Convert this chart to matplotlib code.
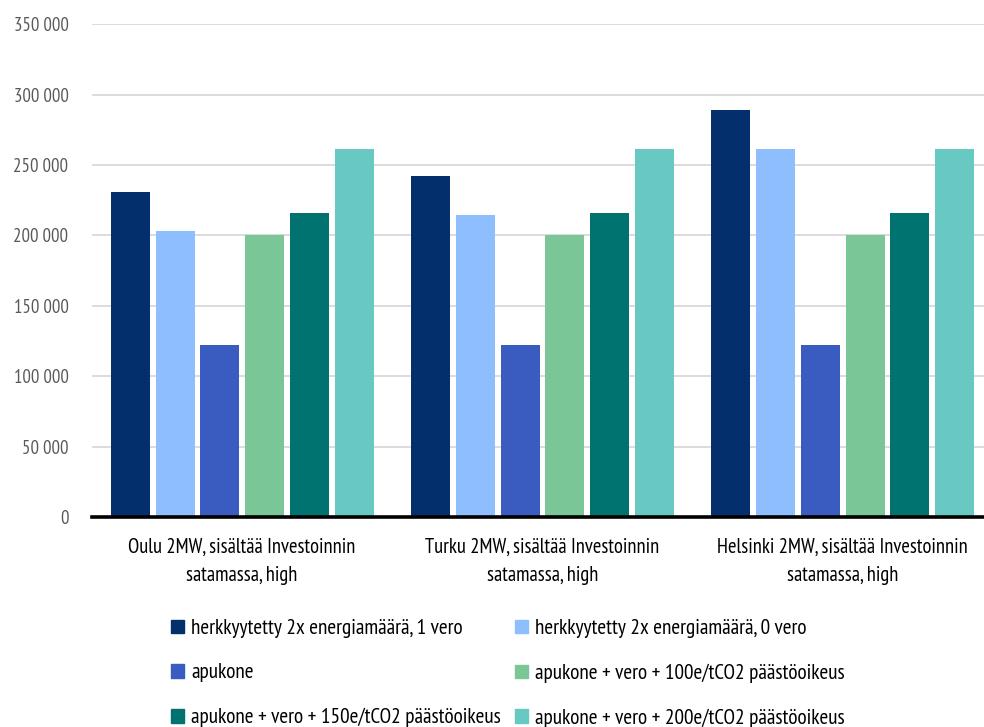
import numpy as np
import matplotlib
matplotlib.use("Agg")
import matplotlib.pyplot as plt
from matplotlib.patches import Patch

plt.rcParams['font.family'] = ['PT Sans Narrow', 'DejaVu Sans']

categories = ["Oulu 2MW, sisältää Investoinnin\nsatamassa, high",
              "Turku 2MW, sisältää Investoinnin\nsatamassa, high",
              "Helsinki 2MW, sisältää Investoinnin\nsatamassa, high"]

series_names = ["herkkyytetty 2x energiamäärä, 1 vero",
                "herkkyytetty 2x energiamäärä, 0 vero",
                "apukone",
                "apukone + vero + 100e/tCO2 päästöoikeus",
                "apukone + vero + 150e/tCO2 päästöoikeus",
                "apukone + vero + 200e/tCO2 päästöoikeus"]

herkky_1_vero = [231000, 242000, 289000]
herkky_0_vero = [203500, 214500, 261600]
apukone = [122300, 122300, 122300]
apukone_100 = [200300, 200300, 200300]
apukone_150 = [215700, 215700, 215700]
apukone_200 = [261600, 261600, 261600]

colors = ['#03306C', '#8FBEFF', '#3A5BBF', '#7BC696', '#007370', '#68C9C3']

values = [herkky_1_vero, herkky_0_vero, apukone, apukone_100, apukone_150, apukone_200]

fig = plt.figure(figsize=(9.84, 7.27), dpi=100)
# plot area runs a little past the right edge of the figure
ax = fig.add_axes([92 / 984, 1 - 517 / 727, (993 - 92) / 984, (517 - 24.3) / 727])

x = np.arange(len(categories))
slot = 0.149
width = 0.13
for i, (vals, col) in enumerate(zip(values, colors)):
    ax.bar(x + (i - 2.5) * slot, vals, width=width, color=col, zorder=3)

ax.set_xlim(-0.5, 2.5)
ax.set_ylim(0, 350000)
ax.set_yticks(np.arange(0, 350001, 50000))
ax.set_yticklabels([f"{v:,}".replace(",", " ") for v in range(0, 350001, 50000)])
ax.yaxis.grid(True, color='#D9D9D9', linewidth=1.3, zorder=0)
ax.tick_params(axis='y', length=0, pad=17, labelsize=13.5, labelcolor='#595959')
ax.set_xticks(x)
ax.set_xticklabels(categories, fontsize=14.8, linespacing=1.62)
ax.tick_params(axis='x', length=0, pad=15)
for side in ['top', 'right', 'left']:
    ax.spines[side].set_visible(False)
ax.spines['bottom'].set_linewidth(2.6)
ax.spines['bottom'].set_color('black')
ax.spines['bottom'].set_zorder(4)

# row-wise order in a 2-column legend
order = [0, 2, 4, 1, 3, 5]
handles = [Patch(color=colors[i]) for i in order]
labels = [series_names[i] for i in order]
fig.legend(handles, labels, ncol=2, loc='upper left',
           bbox_to_anchor=(171 / 984, 1 - 619 / 727), frameon=False,
           fontsize=15.3, handlelength=0.6, handleheight=0.6,
           handletextpad=0.35, columnspacing=0.65, labelspacing=1.2,
           borderaxespad=0, borderpad=0)

fig.savefig('out.png', dpi=100)
